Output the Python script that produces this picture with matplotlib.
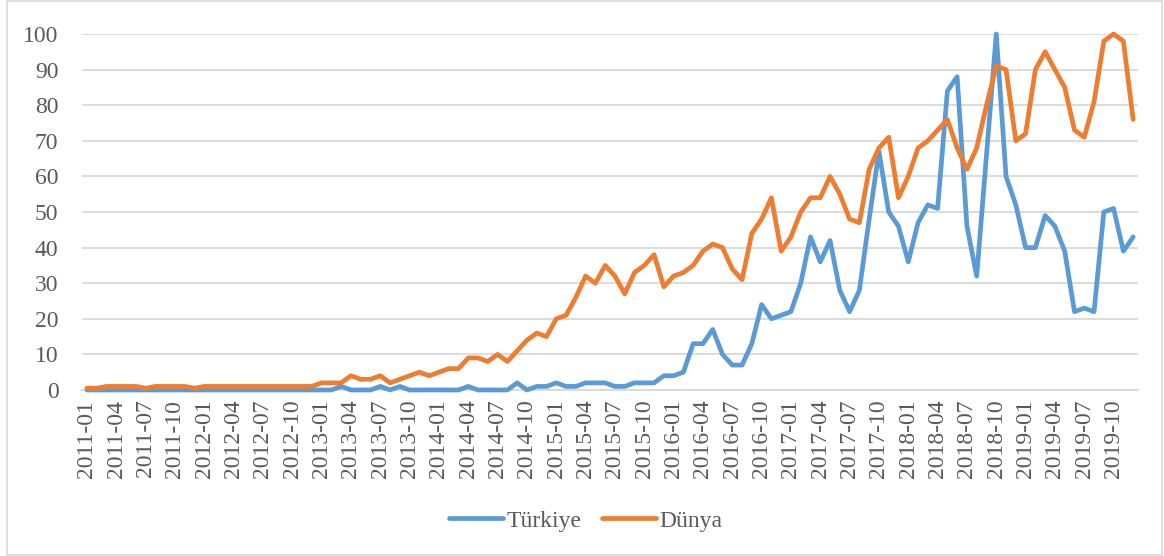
import numpy as np
import pandas as pd
import matplotlib
matplotlib.use("Agg")
import matplotlib.pyplot as plt
from matplotlib.lines import Line2D

# monthly series, 2011-01 .. 2019-12
months = pd.period_range("2011-01", "2019-12", freq="M").strftime("%Y-%m").tolist()

turkiye = [
    0, 0, 0, 0, 0, 0, 0, 0, 0, 0, 0, 0,                 # 2011
    0, 0, 0, 0, 0, 0, 0, 0, 0, 0, 0, 0,                 # 2012
    0, 0, 1, 0, 0, 0, 1, 0, 1, 0, 0, 0,                 # 2013
    0, 0, 0, 1, 0, 0, 0, 0, 2, 0, 1, 1,                 # 2014
    2, 1, 1, 2, 2, 2, 1, 1, 2, 2, 2, 4,                 # 2015
    4, 5, 13, 13, 17, 10, 7, 7, 13, 24, 20, 21,         # 2016
    22, 30, 43, 36, 42, 28, 22, 28, 48, 67, 50, 46,     # 2017
    36, 47, 52, 51, 84, 88, 46, 32, 66, 100, 60, 52,    # 2018
    40, 40, 49, 46, 39, 22, 23, 22, 50, 51, 39, 43,     # 2019
]

dunya = [
    0.5, 0.5, 1, 1, 1, 1, 0.5, 1, 1, 1, 1, 0.5,         # 2011
    1, 1, 1, 1, 1, 1, 1, 1, 1, 1, 1, 1,                 # 2012
    2, 2, 2, 4, 3, 3, 4, 2, 3, 4, 5, 4,                 # 2013
    5, 6, 6, 9, 9, 8, 10, 8, 11, 14, 16, 15,            # 2014
    20, 21, 26, 32, 30, 35, 32, 27, 33, 35, 38, 29,     # 2015
    32, 33, 35, 39, 41, 40, 34, 31, 44, 48, 54, 39,     # 2016
    43, 50, 54, 54, 60, 55, 48, 47, 62, 68, 71, 54,     # 2017
    60, 68, 70, 73, 76, 68, 62, 68, 80, 91, 90, 70,     # 2018
    72, 90, 95, 90, 85, 73, 71, 81, 98, 100, 98, 76,    # 2019
]

series_names = ["Türkiye", "Dünya"]
colors = ["#5B9BD5", "#ED7D31"]

plt.rcParams["font.family"] = ["Liberation Serif", "DejaVu Serif"]

fig = plt.figure(figsize=(11.64, 5.56), dpi=100)
ax = fig.add_axes([0.0705, 0.2986, 0.9072, 0.6402])

x = np.arange(len(months))
for vals, name, c in zip([turkiye, dunya], series_names, colors):
    ax.plot(x, vals, color=c, lw=3.4, label=name, solid_joinstyle="round",
            solid_capstyle="round", clip_on=False, zorder=3)

ax.set_xlim(-0.5, len(months) - 0.5)
ax.set_ylim(0, 100)
ax.set_yticks(np.arange(0, 101, 10))
ax.set_xticks(x[::3])
ax.set_xticklabels(months[::3], rotation=90)
ax.tick_params(axis="both", length=0, labelsize=17, colors="#595959")
ax.tick_params(axis="y", pad=17)
ax.tick_params(axis="x", pad=7)
ax.grid(axis="y", color="#d9d9d9", lw=1.3)
ax.set_axisbelow(True)
for s in ["top", "right", "left"]:
    ax.spines[s].set_visible(False)
ax.spines["bottom"].set_color("#d9d9d9")
ax.spines["bottom"].set_linewidth(1.3)

handles = [Line2D([], [], color=c, lw=3.4, solid_capstyle="round") for c in colors]
fig.legend(handles, series_names, loc="center", bbox_to_anchor=(0.503, 0.063),
           ncol=2, frameon=False, fontsize=17, handlelength=2.3,
           handletextpad=0.15, columnspacing=0.85, labelcolor="#595959")

# chart-area border
fig.add_artist(plt.Rectangle((0.006, 0.002), 0.992, 0.996, transform=fig.transFigure,
                             fill=False, ec="#d9d9d9", lw=1.2))

fig.savefig("out.png", dpi=100)
